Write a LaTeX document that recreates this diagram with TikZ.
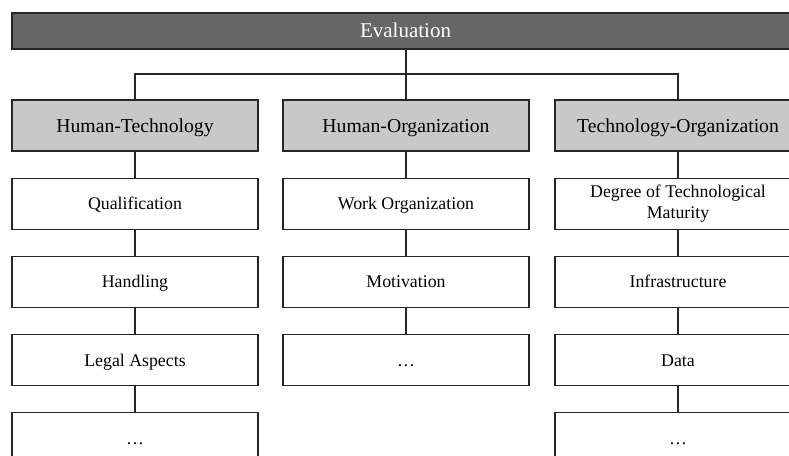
\documentclass[tikz,border=0pt]{standalone}
\usepackage{fontspec}
\setmainfont{Liberation Serif}
\usepackage{xcolor}
\usepackage{tikz}
\usetikzlibrary{positioning}

\definecolor{evalgray}{HTML}{666666}
\definecolor{headgray}{HTML}{C8C8C8}

\begin{document}
\begin{tikzpicture}[
    x=1pt, y=-1pt,
    box/.style={rectangle, draw=black!85, line width=1.2pt, minimum width=246pt,
      minimum height=51pt, inner sep=2pt, align=center},
    evalbox/.style={box, fill=evalgray, text=white, minimum width=787pt,
      minimum height=36pt, font=\fontsize{21}{24}\selectfont,
      text height=13.9pt, text depth=0pt},
    headbox/.style={box, fill=headgray, font=\fontsize{19.7}{23}\selectfont,
      text height=13pt, text depth=0pt},
    item/.style={box, fill=white, font=\fontsize{17.8}{21}\selectfont},
    itembox/.style={item, text height=11.8pt, text depth=0pt},
    link/.style={draw=black!85, line width=1.2pt},
  ]
    \useasboundingbox (0,0) rectangle (789,455);
    \clip (0,0) rectangle (789,455);

    % Nodes
    \node[evalbox] (eval) at (405.5,31) {Evaluation};
    \node[headbox] (ht)  at (135,125.5) {Human-Technology};
    \node[headbox] (ho)  at (406,125.5) {Human-Organization};
    \node[headbox] (to)  at (678,125.5) {Technology-Organization};

    \node[itembox, below=26pt of ht] (qual)  {Qualification};
    \node[itembox, below=26pt of qual] (hand) {Handling};
    \node[itembox, below=26pt of hand] (legal) {Legal Aspects};
    \node[itembox, below=26pt of legal] (htdots) {…};

    \node[itembox, below=26pt of ho] (work)  {Work Organization};
    \node[itembox, below=26pt of work] (moti) {Motivation};
    \node[itembox, below=26pt of moti] (hodots) {…};

    \node[item, below=26pt of to] (degree) {Degree of Technological\\Maturity};
    \node[itembox, below=26pt of degree] (infra) {Infrastructure};
    \node[itembox, below=26pt of infra] (data) {Data};
    \node[itembox, below=26pt of data] (todots) {…};

    % Connectors
    \coordinate (bus) at (406,74);
    \draw[link] (eval.south -| bus) -- (bus);
    \draw[link] (bus) -| (ht.north);
    \draw[link] (bus) -| (to.north);
    \draw[link] (bus) -- (ho.north);

    \draw[link] (ht) -- (qual) -- (hand) -- (legal) -- (htdots);
    \draw[link] (ho) -- (work) -- (moti) -- (hodots);
    \draw[link] (to) -- (degree) -- (infra) -- (data) -- (todots);
  \end{tikzpicture}
\end{document}
